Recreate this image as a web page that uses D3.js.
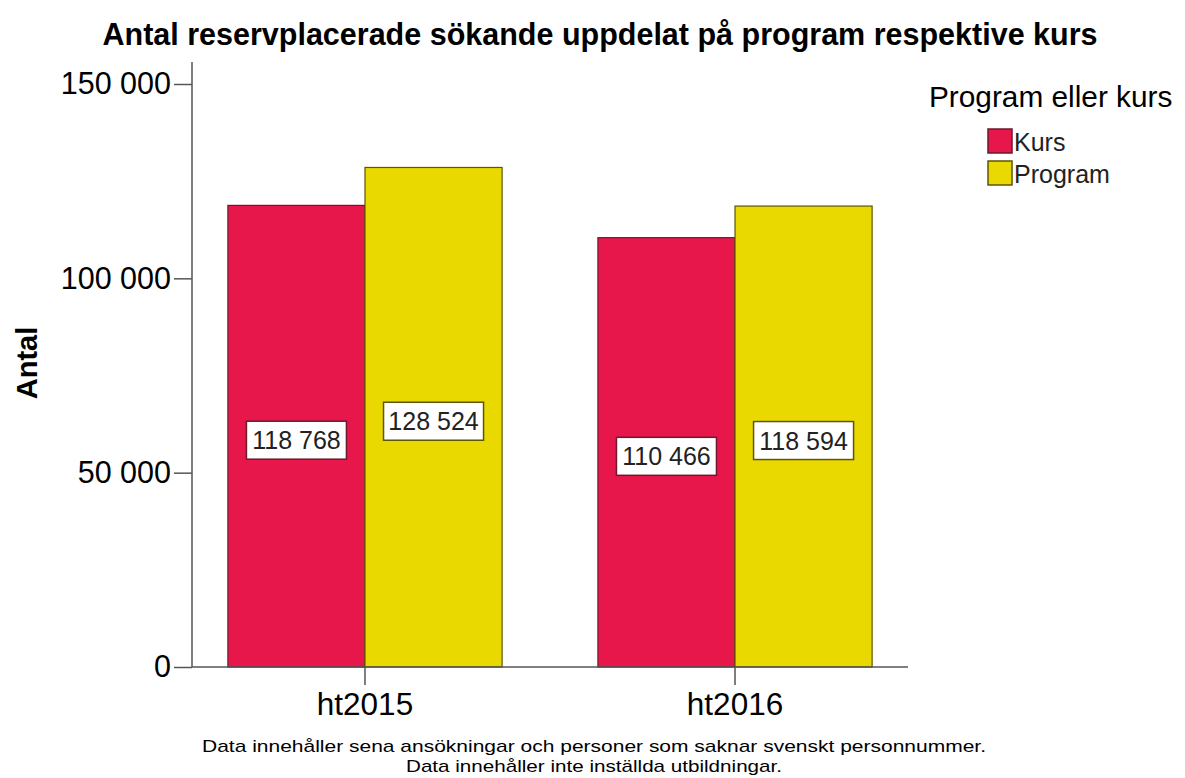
<!DOCTYPE html>
<html><head><meta charset="utf-8">
<script src="https://cdn.jsdelivr.net/npm/d3@7"></script>
<style>body{margin:0;background:#fff}svg{display:block;font-family:"Liberation Sans",Arial,sans-serif}</style>
</head><body><svg id="c" width="1185" height="778"></svg>
<script>
const categories = ["ht2015", "ht2016"];
const seriesNames = ["Kurs", "Program"];
const kursValues = [118768, 110466];
const programValues = [128524, 118594];
const yTicks = [0, 50000, 100000, 150000];
const colors = {Kurs: "#E8174B", Program: "#EAD900"};
const borders = {Kurs: "#6a1a2c", Program: "#5e5600"};

const svg = d3.select("#c");
const fmt = v => d3.format(",")(v).replace(/,/g, " ");

const x0 = d3.scaleBand().domain(categories).range([192, 908]).paddingInner(0.259).paddingOuter(0.097);
const x1 = d3.scaleBand().domain(seriesNames).range([0, x0.bandwidth()]);
const y = d3.scaleLinear().domain([0, 150000]).range([667, 84]);
const yTop = 62;

const data = categories.map((c, i) => ({cat: c, values: [
  {s: "Kurs", v: kursValues[i]}, {s: "Program", v: programValues[i]}]}));

// title
svg.append("text").attr("x", 600).attr("y", 45).attr("text-anchor", "middle")
  .attr("font-size", 30.5).attr("font-weight", "bold").attr("fill", "#000")
  .text("Antal reservplacerade sökande uppdelat på program respektive kurs");

// bars
const g = svg.append("g");
const groups = g.selectAll("g.grp").data(data).join("g").attr("class","grp")
  .attr("transform", d => `translate(${x0(d.cat)},0)`);
groups.selectAll("rect").data(d => d.values).join("rect")
  .attr("x", d => x1(d.s)).attr("width", x1.bandwidth())
  .attr("y", d => y(d.v)).attr("height", d => y(0) - y(d.v))
  .attr("fill", d => colors[d.s]).attr("stroke", d => borders[d.s]).attr("stroke-width", 1.2);

// value labels
groups.selectAll("g.lab").data(d => d.values).join("g").attr("class","lab")
  .each(function(d){
    const cx = x1(d.s) + x1.bandwidth()/2;
    const cy = (y(d.v) + y(0))/2 + 4;
    const gg = d3.select(this);
    gg.append("rect").attr("x", cx - 50).attr("y", cy - 19).attr("width", 100).attr("height", 38)
      .attr("fill", "#fff").attr("stroke", borders[d.s]).attr("stroke-width", 1.5);
    gg.append("text").attr("x", cx).attr("y", cy + 9).attr("text-anchor", "middle")
      .attr("font-size", 25).attr("fill", "#222").text(fmt(d.v));
  });

// axes
const axisColor = "#555";
svg.append("line").attr("x1", 192).attr("x2", 192).attr("y1", yTop).attr("y2", y(0)).attr("stroke", axisColor).attr("stroke-width", 1.5);
svg.append("line").attr("x1", 192).attr("x2", 908).attr("y1", y(0)).attr("y2", y(0)).attr("stroke", axisColor).attr("stroke-width", 1.5);

const yAxis = svg.append("g").attr("transform", "translate(192,0)")
  .call(d3.axisLeft(y).tickValues(yTicks).tickSize(18).tickPadding(3).tickFormat(fmt));
yAxis.select(".domain").remove();
yAxis.selectAll("line").attr("stroke", axisColor).attr("stroke-width", 1.5);
yAxis.selectAll("text").attr("font-size", 30.5).attr("fill", "#000").attr("font-family", "Liberation Sans, Arial, sans-serif");

const xAxis = svg.append("g").attr("transform", `translate(0,${y(0)})`)
  .call(d3.axisBottom(x0).tickSize(18).tickPadding(8));
xAxis.select(".domain").remove();
xAxis.selectAll("line").attr("stroke", axisColor).attr("stroke-width", 1.5);
xAxis.selectAll("text").attr("font-size", 31.5).attr("fill", "#000").attr("font-family", "Liberation Sans, Arial, sans-serif");

// y axis title
svg.append("text").attr("transform", "translate(37,363) rotate(-90)").attr("text-anchor", "middle")
  .attr("font-size", 29).attr("font-weight", "bold").attr("fill", "#000").text("Antal");

// legend
svg.append("text").attr("x", 929).attr("y", 107).attr("font-size", 29.8).attr("fill", "#000").text("Program eller kurs");
const leg = svg.append("g").selectAll("g").data(seriesNames).join("g")
  .attr("transform", (d, i) => `translate(988,${129 + i*32})`);
leg.append("rect").attr("width", 24).attr("height", 24).attr("fill", d => colors[d])
  .attr("stroke", d => borders[d]).attr("stroke-width", 1.5);
leg.append("text").attr("x", 26).attr("y", 22).attr("font-size", 25).attr("fill", "#222").text(d => d);

// footnotes
const notes = ["Data innehåller sena ansökningar och personer som saknar svenskt personnummer.",
               "Data innehåller inte inställda utbildningar."];
const noteWidths = [784, 376];
svg.append("g").selectAll("text").data(notes).join("text")
  .attr("x", 594).attr("y", (d, i) => 752 + i*20).attr("text-anchor", "middle")
  .attr("font-size", 17).attr("fill", "#000")
  .attr("textLength", (d, i) => noteWidths[i]).attr("lengthAdjust", "spacingAndGlyphs")
  .text(d => d);
</script></body></html>
